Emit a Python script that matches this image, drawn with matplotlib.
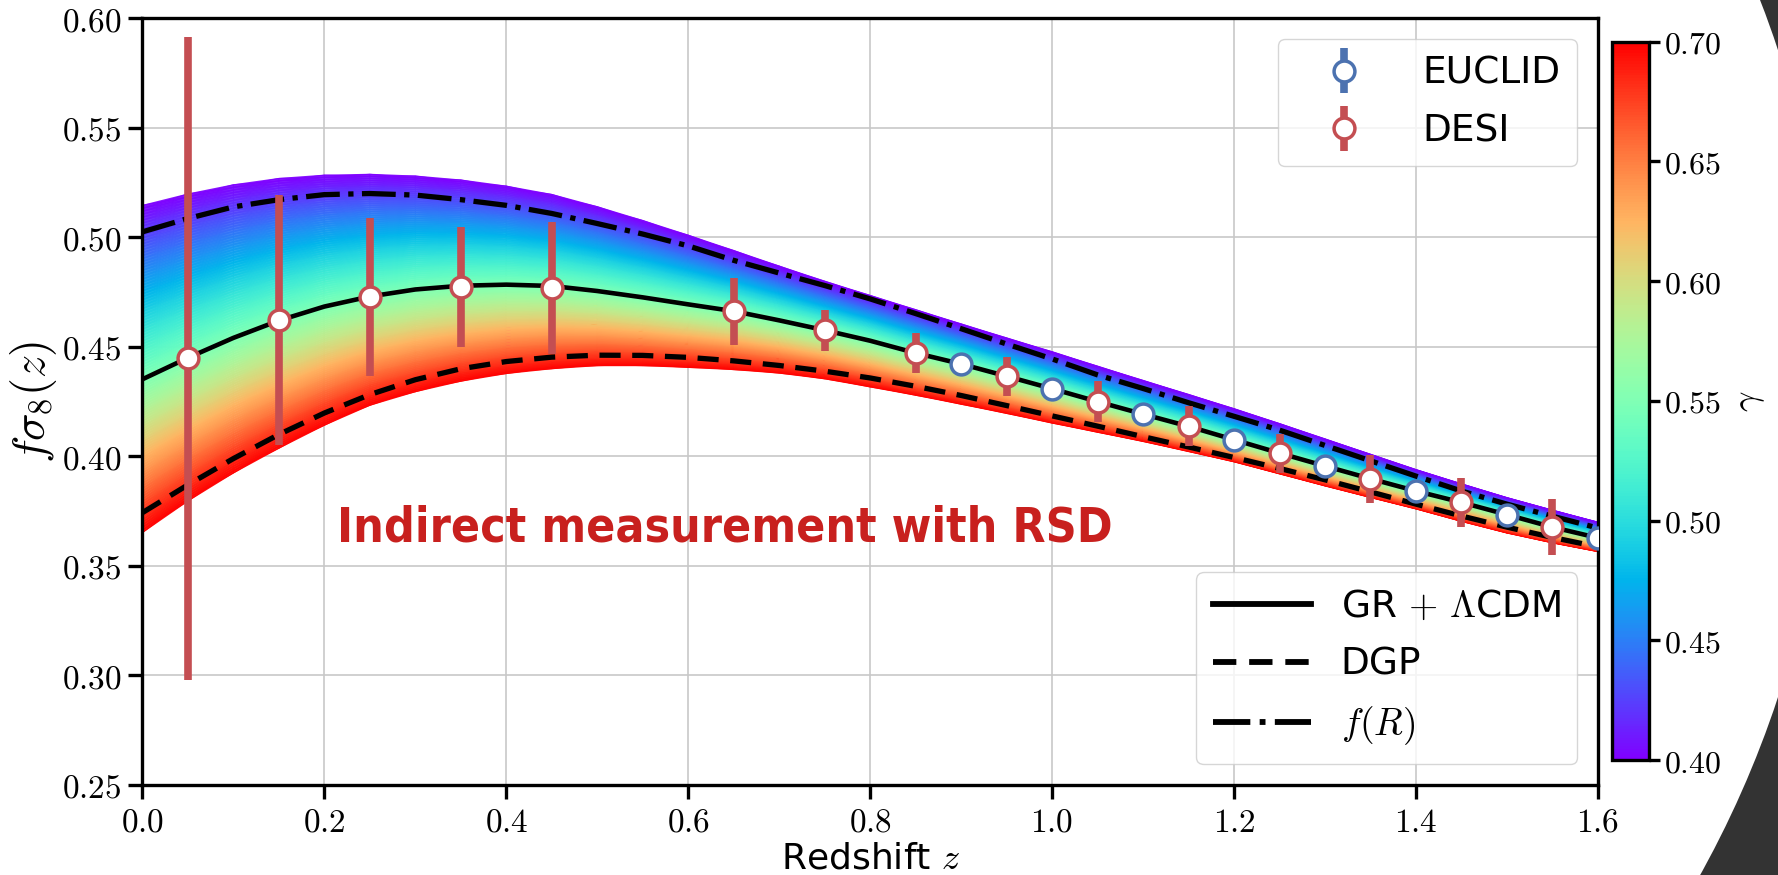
# f sigma_8(z) growth-index band with RSD forecasts (DESI / EUCLID)
import numpy as np
import matplotlib
matplotlib.use('Agg')
import matplotlib.pyplot as plt
from matplotlib.ticker import FuncFormatter, MultipleLocator
from matplotlib.patches import Circle
from matplotlib.lines import Line2D
from matplotlib.cm import ScalarMappable
from matplotlib.colors import Normalize
from matplotlib.container import ErrorbarContainer
from matplotlib.legend_handler import HandlerErrorbar

plt.rcParams['mathtext.fontset'] = 'cm'
plt.rcParams['font.family'] = ['DejaVu Sans']

# ---- curves ----
z_grid = [0.00, 0.05, 0.10, 0.15, 0.20, 0.25, 0.30, 0.35, 0.40, 0.45, 0.50,
          0.55, 0.60, 0.65, 0.70, 0.75, 0.80, 0.85, 0.90, 0.95, 1.00, 1.05,
          1.10, 1.15, 1.20, 1.25, 1.30, 1.35, 1.40, 1.45, 1.50, 1.55, 1.60]

# upper edge of band (gamma = 0.40)
fs8_gamma040 = [0.5146, 0.5198, 0.5240, 0.5269, 0.5284, 0.5288, 0.5280, 0.5262,
                0.5234, 0.5196, 0.5140, 0.5077, 0.5010, 0.4940, 0.4869, 0.4800,
                0.4735, 0.4670, 0.4605, 0.4541, 0.4478, 0.4412, 0.4347, 0.4283,
                0.4218, 0.4150, 0.4080, 0.4010, 0.3940, 0.3875, 0.3812, 0.3755,
                0.3700]
# lower edge of band (gamma = 0.70)
fs8_gamma070 = [0.3652, 0.3796, 0.3924, 0.4037, 0.4142, 0.4233, 0.4295, 0.4343,
                0.4378, 0.4400, 0.4414, 0.4414, 0.4406, 0.4396, 0.4380, 0.4354,
                0.4317, 0.4279, 0.4238, 0.4196, 0.4152, 0.4110, 0.4068, 0.4022,
                0.3975, 0.3920, 0.3865, 0.3812, 0.3760, 0.3703, 0.3650, 0.3605,
                0.3565]
# GR + LCDM (gamma = 0.55)
fs8_gr = [0.4352, 0.4450, 0.4541, 0.4620, 0.4684, 0.4730, 0.4762, 0.4779,
          0.4784, 0.4778, 0.4755, 0.4726, 0.4694, 0.4663, 0.4621, 0.4576,
          0.4528, 0.4472, 0.4422, 0.4366, 0.4309, 0.4250, 0.4193, 0.4137,
          0.4076, 0.4015, 0.3956, 0.3898, 0.3842, 0.3790, 0.3734, 0.3677,
          0.3628]
fs8_dgp = [0.3743, 0.3870, 0.3990, 0.4100, 0.4198, 0.4282, 0.4350, 0.4400,
           0.4433, 0.4453, 0.4462, 0.4461, 0.4452, 0.4436, 0.4415, 0.4389,
           0.4358, 0.4320, 0.4278, 0.4232, 0.4185, 0.4138, 0.4090, 0.4043,
           0.3995, 0.3945, 0.3893, 0.3838, 0.3782, 0.3728, 0.3677, 0.3630,
           0.3587]
fs8_fr = [0.5025, 0.5086, 0.5139, 0.5172, 0.5195, 0.5200, 0.5193, 0.5172,
          0.5146, 0.5109, 0.5063, 0.5015, 0.4961, 0.4895, 0.4837, 0.4780,
          0.4719, 0.4652, 0.4583, 0.4513, 0.4445, 0.4372, 0.4310, 0.4245,
          0.4183, 0.4120, 0.4050, 0.3980, 0.3910, 0.3842, 0.3782, 0.3727,
          0.3673]

# ---- forecast points ----
z_desi = [0.05, 0.15, 0.25, 0.35, 0.45, 0.65, 0.75, 0.85, 0.95, 1.05, 1.15,
          1.25, 1.35, 1.45, 1.55]
fs8_desi = [0.4448, 0.4623, 0.4727, 0.4774, 0.4769, 0.4663, 0.4576, 0.4472,
            0.4366, 0.4250, 0.4137, 0.4015, 0.3898, 0.3790, 0.3677]
err_desi = [0.1468, 0.0571, 0.0360, 0.0275, 0.0300, 0.0153, 0.0094, 0.0093,
            0.0090, 0.0094, 0.0091, 0.0089, 0.0110, 0.0113, 0.0128]

z_euclid = [0.9, 1.0, 1.1, 1.2, 1.3, 1.4, 1.5, 1.6]
fs8_euclid = [0.4422, 0.4309, 0.4194, 0.4076, 0.3956, 0.3842, 0.3734, 0.3628]
err_euclid = [0.004, 0.004, 0.004, 0.004, 0.004, 0.004, 0.004, 0.004]

gamma_min, gamma_gr, gamma_max = 0.40, 0.55, 0.70
gamma_ticks = [0.40, 0.45, 0.50, 0.55, 0.60, 0.65, 0.70]

fig = plt.figure(figsize=(17.78, 8.75), dpi=100, facecolor='#333333')
# white slide area with the dark background showing in the right corners
fig.add_artist(Circle((7.97, 5.014), 10.33, transform=fig.dpi_scale_trans,
                      facecolor='white', edgecolor='none', zorder=-10))

ax = fig.add_axes([0.0801, 0.1029, 0.8186, 0.8762])
cax = fig.add_axes([0.9066, 0.1314, 0.0208, 0.821])

# colour band: gamma runs from 0.70 (bottom) through GR (0.55) to 0.40 (top)
z = np.array(z_grid)
lo, mid, hi = np.array(fs8_gamma070), np.array(fs8_gr), np.array(fs8_gamma040)
t = np.linspace(0, 1, 60)[:, None]
Y = np.vstack([lo + t * (mid - lo), (mid + t * (hi - mid))[1:]])
C = np.vstack([gamma_max - t * (gamma_max - gamma_gr) + 0 * z,
               (gamma_gr - t * (gamma_gr - gamma_min) + 0 * z)[1:]])
X = np.broadcast_to(z, Y.shape)
ax.pcolormesh(X, Y, C, cmap='rainbow', vmin=gamma_min, vmax=gamma_max,
              shading='gouraud', alpha=0.93, zorder=1)

ax.plot(z, fs8_gr, color='k', ls='-', lw=3.3, zorder=3)
ax.plot(z, fs8_dgp, color='k', ls=(0, (4, 2.2)), lw=3.8, zorder=3)
ax.plot(z, fs8_fr, color='k', ls='-.', lw=3.8, zorder=3)

eb_euclid = ax.errorbar(z_euclid, fs8_euclid, yerr=err_euclid, fmt='o', ms=15,
                        mfc='white', mec='#4C72B0', mew=2.5, ecolor='#4C72B0',
                        elinewidth=5.5, capsize=0, zorder=4)
eb_desi = ax.errorbar(z_desi, fs8_desi, yerr=err_desi, fmt='o', ms=15,
                      mfc='white', mec='#C44E52', mew=2.5, ecolor='#C44E52',
                      elinewidth=5.5, capsize=0, zorder=5)

ax.text(0.214, 0.361, 'Indirect measurement with RSD', color='#C8201E',
        fontsize=34.5, fontweight='bold', fontstretch='condensed', zorder=6)

ax.set_xlim(0, 1.6)
ax.set_ylim(0.25, 0.60)
ax.xaxis.set_major_locator(MultipleLocator(0.2))
ax.yaxis.set_major_locator(MultipleLocator(0.05))
ax.xaxis.set_major_formatter(FuncFormatter(lambda v, p: f'${v:.1f}$'))
ax.yaxis.set_major_formatter(FuncFormatter(lambda v, p: f'${v:.2f}$'))
ax.tick_params(axis='both', direction='out', length=10, width=2.4,
               labelsize=24, pad=5)
ax.set_axisbelow(True)
ax.grid(True, color='#c8c8c8', lw=1.2)
for s in ax.spines.values():
    s.set_linewidth(2.4)

ax.set_xlabel(r'Redshift $z$', fontsize=26, labelpad=2)
ax.set_ylabel(r'$f\sigma_8(z)$', fontsize=33, labelpad=2)

leg_kw = dict(fontsize=27, handlelength=2.6, handletextpad=0.8,
              labelspacing=0.58, borderaxespad=0.55, framealpha=0.8,
              edgecolor='#cccccc', borderpad=0.45)
leg1 = ax.legend([eb_euclid, eb_desi], ['EUCLID', 'DESI'], loc='upper right',
                 handler_map={ErrorbarContainer: HandlerErrorbar(yerr_size=0.6)},
                 **leg_kw)
ax.add_artist(leg1)
line_handles = [Line2D([], [], color='k', ls='-', lw=4.2),
                Line2D([], [], color='k', ls=(0, (4, 2.2)), lw=4.2),
                Line2D([], [], color='k', ls='-.', lw=4.2)]
ax.legend(line_handles, [r'GR $+$ $\Lambda$CDM', 'DGP', r'$f(R)$'],
          loc='lower right', **leg_kw)

sm = ScalarMappable(norm=Normalize(gamma_min, gamma_max), cmap='rainbow')
cb = fig.colorbar(sm, cax=cax)
cb.set_ticks(gamma_ticks)
cb.ax.yaxis.set_major_formatter(FuncFormatter(lambda v, p: f'${v:.2f}$'))
cb.outline.set_linewidth(2.4)
cax.tick_params(length=8, width=2.4, labelsize=23, pad=3)
cb.set_label(r'$\gamma$', fontsize=26, labelpad=8)

fig.savefig('out.png', dpi=100, facecolor=fig.get_facecolor())
